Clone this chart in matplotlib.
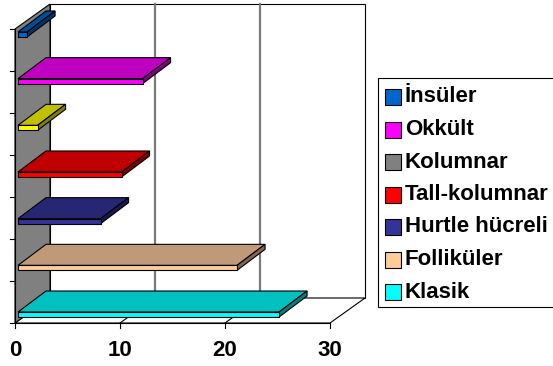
import matplotlib
matplotlib.use('Agg')
import matplotlib.pyplot as plt
from matplotlib.patches import Polygon, Rectangle

plt.rcParams['font.family'] = ['Liberation Sans', 'DejaVu Sans']

# data, bottom to top
categories = ['Klasik', 'Folliküler', 'Hurtle hücreli', 'Tall-kolumnar',
              'Kolumnar', 'Okkült', 'İnsüler']
values = [25, 21, 8, 10, 2, 12, 1]
front_colors = ['#00FFFF', '#FFCC99', '#333399', '#FF0000', '#FFFF00', '#FF00FF', '#0066CC']
top_colors = ['#00C0C0', '#C09A78', '#262673', '#C00000', '#C0C000', '#C000C0', '#004D99']
side_colors = ['#008080', '#806650', '#1A1A4D', '#800000', '#808000', '#800080', '#003366']
legend_colors = ['#00FFFF', '#FFCC99', '#333399', '#FF0000', '#808080', '#FF00FF', '#0066CC']
xticks = [0, 10, 20, 30]
xmax = 30

# layout (pixels per unit)
PX = 10.5
ROW = 42.0
DX, DY = 35 / PX, 25 / ROW          # depth of the box
BDX, BDY = 28 / PX, 21 / ROW        # depth of the bars
nrows = len(categories)

fig = plt.figure(figsize=(5.53, 3.66), dpi=100)
ax = fig.add_axes([0, 0, 1, 1])
ax.set_xlim(-15 / PX, 538 / PX)
ax.set_ylim(-43 / ROW, 323 / ROW)
ax.axis('off')

lw = 0.8
# back wall
ax.add_patch(Polygon([(DX, DY), (xmax + DX, DY), (xmax + DX, nrows + DY), (DX, nrows + DY)],
                     closed=True, facecolor='white', edgecolor='black', lw=lw, zorder=1))
# floor
ax.add_patch(Polygon([(0, 0), (xmax, 0), (xmax + DX, DY), (DX, DY)],
                     closed=True, facecolor='white', edgecolor='black', lw=lw, zorder=1))
# left wall
ax.add_patch(Polygon([(0, 0), (DX, DY), (DX, nrows + DY), (0, nrows)],
                     closed=True, facecolor='#808080', edgecolor='black', lw=lw, zorder=2))

# gridlines
for t in xticks[1:-1]:
    ax.plot([t + DX, t + DX], [DY, nrows + DY], color='#7a7a7a', lw=1.6, zorder=1.5)
    ax.plot([t, t + DX], [0, DY], color='black', lw=lw, zorder=1.5)

# axes lines and ticks
ax.plot([0, xmax], [0, 0], color='black', lw=lw, zorder=3)
ax.plot([0, 0], [0, nrows], color='black', lw=lw, zorder=3)
for t in xticks:
    ax.plot([t, t], [0, -5 / ROW], color='black', lw=lw, zorder=3)
    ax.text(t, -28 / ROW, str(t), ha='center', va='center', fontsize=16,
            fontweight='bold', color='black')
for r in range(nrows + 1):
    ax.plot([0, -5 / PX], [r, r], color='black', lw=lw, zorder=3)

# bars
x0 = 3 / PX
for i, (v, fc, tc, sc) in enumerate(zip(values, front_colors, top_colors, side_colors)):
    yb = 6 / ROW + i * (46.67 / ROW)
    yt = yb + 5 / ROW
    x1 = v + 0.15
    ax.add_patch(Polygon([(x0, yt), (x1, yt), (x1 + BDX, yt + BDY), (x0 + BDX, yt + BDY)],
                         closed=True, facecolor=tc, edgecolor='black', lw=lw, zorder=4))
    ax.add_patch(Polygon([(x1, yb), (x1 + BDX, yb + BDY), (x1 + BDX, yt + BDY), (x1, yt)],
                         closed=True, facecolor=sc, edgecolor='black', lw=lw, zorder=4))
    ax.add_patch(Polygon([(x0, yb), (x1, yb), (x1, yt), (x0, yt)],
                         closed=True, facecolor=fc, edgecolor='black', lw=lw, zorder=5))

# legend (pixel coordinates)
lax = fig.add_axes([0, 0, 1, 1])
lax.set_xlim(0, 553)
lax.set_ylim(366, 0)
lax.axis('off')
lax.add_patch(Rectangle((378, 78), 200, 229, facecolor='white', edgecolor='black', lw=lw))
leg_labels = categories[::-1]
leg_cols = legend_colors[::-1]
for j, (lab, col) in enumerate(zip(leg_labels, leg_cols)):
    cy = 97 + 32.5 * j
    lax.add_patch(Rectangle((385, cy - 8), 16, 16, facecolor=col, edgecolor='black', lw=lw))
    lax.text(405, cy, lab, ha='left', va='center', fontsize=16, fontweight='bold')

fig.savefig('out.png', dpi=100, facecolor='white')
